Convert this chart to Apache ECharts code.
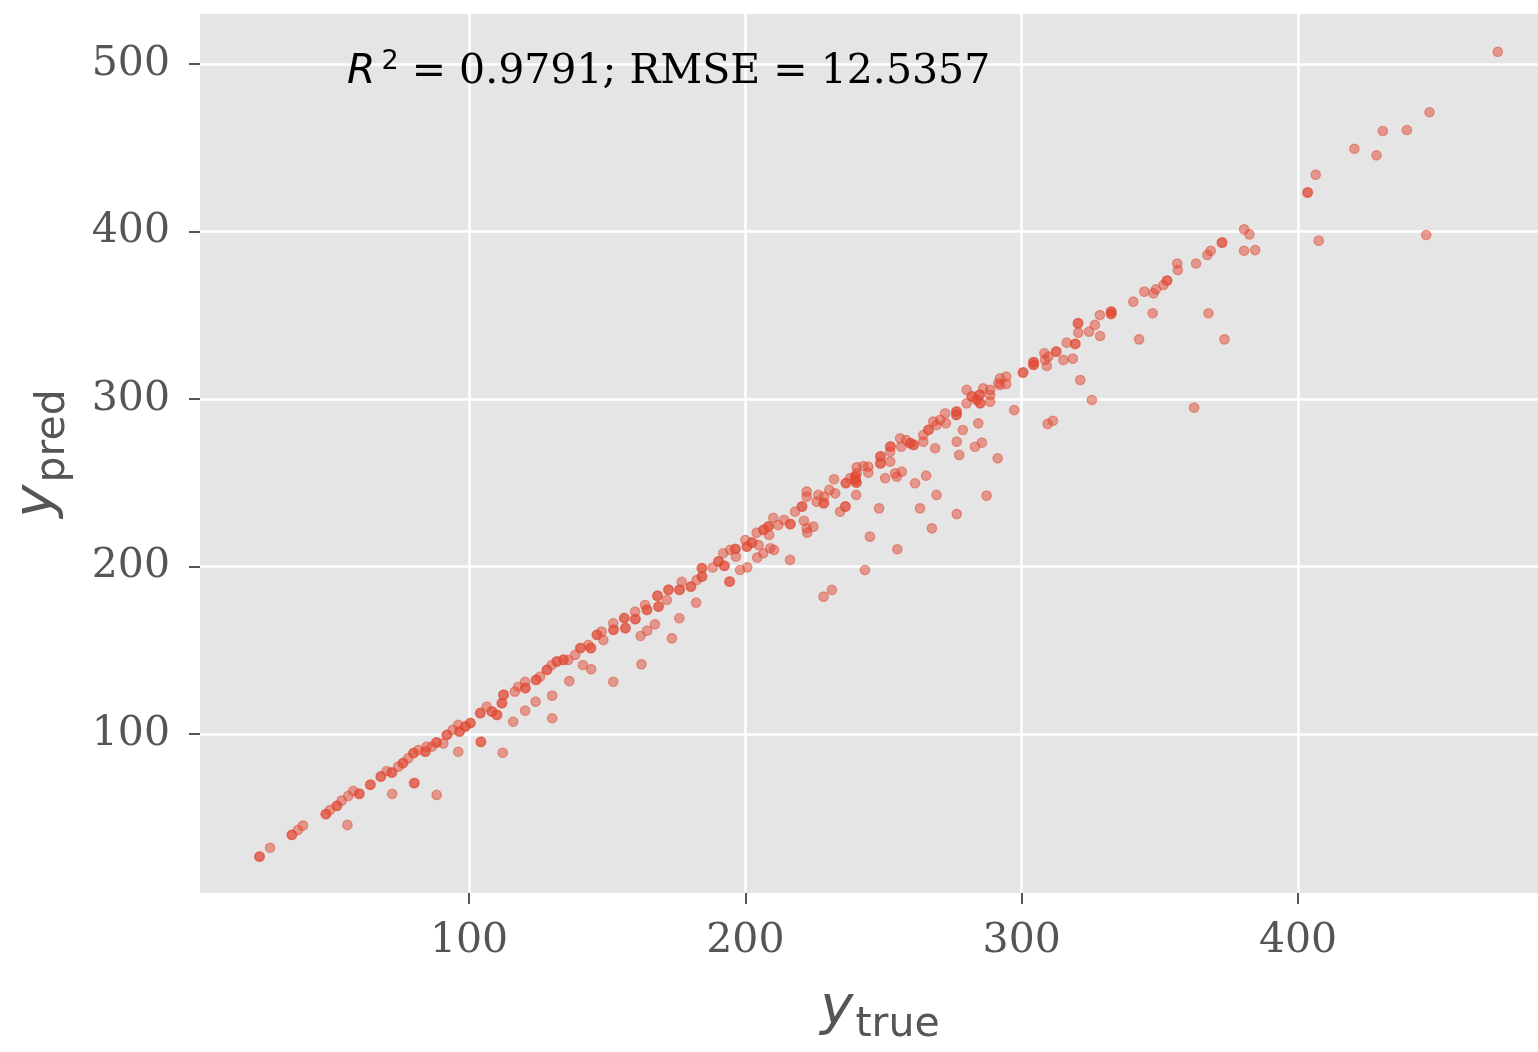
<!DOCTYPE html>
<html>
<head>
<meta charset="utf-8">
<script src="https://cdn.jsdelivr.net/npm/echarts@6/dist/echarts.min.js"></script>
<style>
html, body { margin: 0; padding: 0; background: #fff; }
#main { width: 1538px; height: 1052px; }
</style>
</head>
<body>
<div id="main"></div>
<script>
// values (y_true, y_pred pairs)
const yTrue = [
	24.1, 24.3, 28.0, 35.8, 36.0, 38.1, 39.9, 48.1, 48.3, 49.7, 52.1, 52.3, 53.9, 56.0, 56.3, 58.1, 60.2, 60.4,
	64.2, 64.4, 68.0, 68.2, 70.2, 72.0, 72.2, 72.2, 74.4, 76.0, 76.2, 78.0, 79.8, 80.0, 80.1, 80.3, 81.7, 84.1, 84.3,
	84.7, 86.5, 88.1, 88.3, 88.3, 90.7, 91.9, 92.1, 94.1, 96.1, 96.1, 96.5, 96.7, 98.6, 98.8, 100.4, 100.6,
	104.0, 104.2, 104.2, 104.4, 106.4, 108.2, 108.4, 110.0, 110.2, 112.2, 111.8, 112.0, 116.0, 120.3,
	112.4, 112.6, 116.6, 117.8, 120.3, 120.5, 120.3, 124.2, 124.4, 124.1, 125.7, 128.1, 128.3, 129.9, 130.1, 130.1,
	131.7, 131.9, 134.1, 134.3, 135.9, 136.3, 138.4, 140.2, 140.4, 141.2, 143.2, 144.0, 144.2, 144.2, 146.2, 146.4,
	148.0, 148.6, 152.2, 152.2, 152.2, 152.4, 156.1, 156.3, 156.5, 156.7, 160.1, 160.3, 160.1, 162.1, 162.4,
	163.7, 164.3, 164.5, 164.5, 167.3, 168.1, 168.3, 168.5, 168.7, 171.6, 172.1, 172.3, 173.4, 176.1, 176.1, 176.3,
	177.0, 180.2, 180.4, 182.2, 182.4, 184.2, 184.4, 184.2, 184.4, 188.2, 190.2, 190.4, 192.3, 192.5, 192.0,
	194.2, 194.4, 194.5, 196.3, 196.5, 196.6, 198.1, 200.0, 200.5, 200.7, 200.7, 202.3, 202.5, 204.1, 204.3, 204.8,
	206.5, 206.7, 206.5, 208.3, 208.5, 208.6, 209.0, 210.4, 210.1, 211.9, 214.0, 216.2, 216.4, 216.2, 218.0,
	220.4, 220.6, 221.2, 222.2, 222.2, 222.2, 222.4, 224.6, 225.8, 226.4, 228.3, 228.5, 228.5, 228.3, 231.3,
	230.4, 232.5, 234.3, 236.1, 236.3, 236.3, 236.5, 240.1, 240.1, 240.3, 248.8, 249.0, 248.8, 249.0, 252.4, 252.6,
	252.4, 252.4, 250.6, 254.2, 254.8, 256.6, 256.0, 256.4, 258.2, 259.6, 259.8, 260.8, 261.0, 261.4, 264.4, 264.4,
	265.4, 266.2, 266.4, 268.0, 269.2, 270.5, 268.7, 272.3, 272.6, 276.3, 276.5, 276.3, 276.5, 276.5, 277.4, 278.7,
	280.1, 280.1, 281.9, 282.1, 283.7, 283.9, 284.7, 284.9, 284.9, 285.1, 284.3, 283.1, 285.6, 286.1, 288.6,
	288.6, 288.6, 291.3, 291.5, 248.4, 245.1, 243.3, 255.0, 263.2, 269.2, 267.5, 276.5, 287.3, 240.3, 240.3,
	242.7, 244.5, 244.5, 239.7, 239.9, 239.7, 239.9, 237.9, 232.1, 292.2, 294.4, 294.4, 292.2, 297.3, 300.4, 300.6,
	304.2, 304.4, 304.2, 304.4, 308.2, 308.5, 309.1, 309.7, 309.4, 311.3, 312.4, 312.6, 315.1, 316.3, 318.5,
	319.3, 319.5, 320.3, 320.5, 320.5, 321.2, 324.4, 325.4, 326.5, 328.3, 328.4, 332.3, 332.5, 332.3, 332.5,
	340.4, 342.5, 344.4, 347.7, 348.6, 347.4, 351.3, 352.5, 352.7, 356.3, 356.5, 362.4, 363.1, 367.2, 368.4,
	367.6, 372.4, 372.6, 373.4, 380.5, 382.4, 380.5, 384.5, 403.4, 403.6, 406.4, 407.5, 420.4, 428.4, 430.7,
	439.4, 446.4, 447.6, 472.3
];
const yPred = [
	26.7, 26.9, 32.1, 39.7, 39.9, 42.7, 45.3, 52.1, 52.3, 54.6, 57.0, 57.2, 60.2, 45.7, 63.0, 66.0, 64.2, 64.4,
	69.6, 69.8, 74.5, 74.7, 77.9, 76.9, 77.1, 64.2, 80.5, 82.5, 82.7, 85.5, 88.5, 88.7, 70.6, 70.8, 90.4, 89.4, 89.6,
	92.4, 92.4, 94.8, 95.0, 63.6, 94.4, 99.4, 99.6, 102.4, 105.4, 89.4, 101.4, 101.6, 104.4, 104.6, 106.4, 106.6,
	112.4, 112.6, 95.2, 95.4, 116.3, 113.3, 113.5, 111.3, 111.5, 88.8, 118.3, 118.5, 107.3, 113.9,
	123.3, 123.5, 125.3, 128.2, 127.3, 127.5, 131.2, 132.2, 132.4, 119.3, 134.2, 138.2, 138.4, 141.2, 122.9, 109.4,
	143.2, 143.4, 144.2, 144.4, 144.2, 131.6, 147.2, 151.2, 151.4, 141.2, 153.1, 151.2, 151.4, 138.6, 159.1, 159.3,
	161.1, 156.1, 131.2, 166.1, 162.1, 162.3, 169.1, 169.3, 163.1, 163.3, 168.5, 168.7, 173.0, 158.5, 141.6,
	177.0, 174.0, 161.7, 174.2, 165.5, 182.4, 182.6, 176.0, 176.2, 180.0, 186.0, 186.2, 157.1, 169.1, 186.0, 186.2,
	190.9, 187.9, 188.1, 178.4, 191.9, 198.9, 199.1, 193.9, 194.1, 199.4, 202.9, 203.1, 200.3, 200.5, 207.9,
	190.9, 191.1, 209.9, 210.4, 210.6, 205.9, 197.9, 215.8, 211.8, 199.5, 212.0, 214.2, 214.4, 220.2, 205.3, 212.8,
	221.8, 222.0, 207.9, 223.8, 224.0, 218.8, 210.9, 209.9, 229.1, 224.8, 227.8, 225.2, 225.4, 203.9, 232.7,
	235.7, 235.9, 227.3, 244.7, 241.7, 222.8, 220.2, 223.8, 238.7, 242.7, 237.7, 237.9, 241.7, 182.0, 186.0,
	245.7, 243.7, 232.7, 235.7, 235.9, 249.7, 249.9, 242.7, 250.0, 250.2, 265.6, 265.8, 261.5, 261.7, 271.5, 271.7,
	268.5, 262.6, 252.7, 255.6, 253.6, 256.6, 276.5, 271.5, 275.5, 273.5, 273.7, 272.5, 272.7, 249.7, 278.5, 274.5,
	254.2, 281.5, 281.7, 286.5, 284.5, 287.5, 270.6, 291.4, 285.5, 292.4, 292.6, 290.4, 290.6, 274.5, 266.6, 281.5,
	305.4, 297.4, 301.4, 301.6, 299.4, 299.6, 302.4, 302.6, 297.4, 297.6, 285.5, 271.5, 273.9, 306.4, 305.4,
	302.4, 298.4, 264.6, 309.4, 234.7, 217.8, 197.9, 210.3, 234.7, 242.7, 222.8, 231.3, 242.3, 259.2, 255.6,
	260.0, 259.6, 256.0, 253.6, 253.8, 251.6, 251.8, 252.7, 252.1, 308.4, 313.3, 309.0, 312.3, 293.4, 315.7, 315.9,
	321.9, 322.1, 320.3, 320.5, 327.3, 323.3, 319.7, 325.3, 285.1, 287.0, 328.2, 328.4, 323.3, 333.6, 324.1,
	332.8, 333.0, 345.1, 345.3, 339.6, 311.3, 340.2, 299.4, 344.2, 350.1, 337.6, 352.1, 352.3, 350.7, 350.9,
	358.1, 335.6, 364.1, 363.1, 365.5, 351.2, 368.1, 370.6, 370.8, 380.9, 377.0, 294.8, 380.9, 386.0, 388.5,
	351.2, 393.3, 393.5, 335.6, 401.3, 398.3, 388.5, 388.9, 423.2, 423.4, 433.9, 394.5, 449.4, 445.5, 460.0,
	460.6, 397.9, 471.2, 507.3
];
const xTicks = [100, 200, 300, 400];
const yTicks = [100, 200, 300, 400, 500];
const annotation = '{r|R}{s|2}{t| = 0.9791; RMSE = 12.5357}';

const points = yTrue.map(function (v, i) { return [v, yPred[i]]; });

const chart = echarts.init(document.getElementById('main'), null, { width: 1538, height: 1052 });

const tickLabel = {
	margin: 28,
	color: '#555555',
	fontFamily: 'DejaVu Serif',
	fontSize: 41
};

const nameRich = {
	y: { fontFamily: 'DejaVu Sans', fontStyle: 'italic', fontSize: 56, color: '#555555', verticalAlign: 'bottom', padding: [0, 2, 9, 0] },
	s: { fontFamily: 'DejaVu Sans', fontSize: 41, color: '#555555', verticalAlign: 'bottom' }
};

const option = {
	backgroundColor: '#ffffff',
	animation: false,
	title: {
		text: annotation,
		left: 347,
		top: 48,
		padding: 0,
		textStyle: {
			fontWeight: 'normal',
			rich: {
				r: { fontFamily: 'DejaVu Sans', fontStyle: 'italic', fontWeight: 'normal', fontSize: 41, color: '#000', lineHeight: 48 },
				s: { fontFamily: 'DejaVu Sans', fontWeight: 'normal', fontSize: 27, color: '#000', verticalAlign: 'top', lineHeight: 29, padding: [0, 0, 0, 6] },
				t: { fontFamily: 'DejaVu Serif', fontWeight: 'normal', fontSize: 41, color: '#000', lineHeight: 48 }
			}
		}
	},
	grid: {
		left: 200,
		top: 14,
		right: 0,
		bottom: 159,
		show: true,
		backgroundColor: '#E5E5E5',
		borderWidth: 0,
		containLabel: false,
		outerBoundsMode: 'none'
	},
	xAxis: {
		type: 'value',
		min: 2.65,
		max: 486.85,
		axisLine: { show: false },
		axisTick: {
			show: true,
			length: 11,
			customValues: xTicks,
			lineStyle: { color: '#555555', width: 2 }
		},
		axisLabel: Object.assign({ customValues: xTicks }, tickLabel),
		splitLine: { show: true, lineStyle: { color: '#ffffff', width: 2.5 } },
		name: '{y|y}{s|true}',
		nameLocation: 'middle',
		nameGap: 88,
		nameTextStyle: {
			padding: [0, 0, 0, 22],
			rich: nameRich
		}
	},
	yAxis: {
		type: 'value',
		min: 5.07,
		max: 529.85,
		axisLine: { show: false },
		axisTick: {
			show: true,
			length: 11,
			customValues: yTicks,
			lineStyle: { color: '#555555', width: 2 }
		},
		axisLabel: Object.assign({ customValues: yTicks }, tickLabel, { margin: 30 }),
		splitLine: { show: true, lineStyle: { color: '#ffffff', width: 2.5 } },
		name: '{y|y}{s|pred}',
		nameLocation: 'middle',
		nameRotate: 90,
		nameGap: 126,
		nameTextStyle: {
			rich: nameRich
		}
	},
	series: [{
		type: 'scatter',
		data: points,
		symbol: 'circle',
		symbolSize: 9.5,
		itemStyle: {
			color: 'rgba(226,74,51,0.5)',
			borderColor: 'rgba(226,74,51,0.5)',
			borderWidth: 1.2,
			opacity: 1
		},
		emphasis: { disabled: true },
		silent: true
	}]
};

chart.setOption(option);
</script>
</body>
</html>
